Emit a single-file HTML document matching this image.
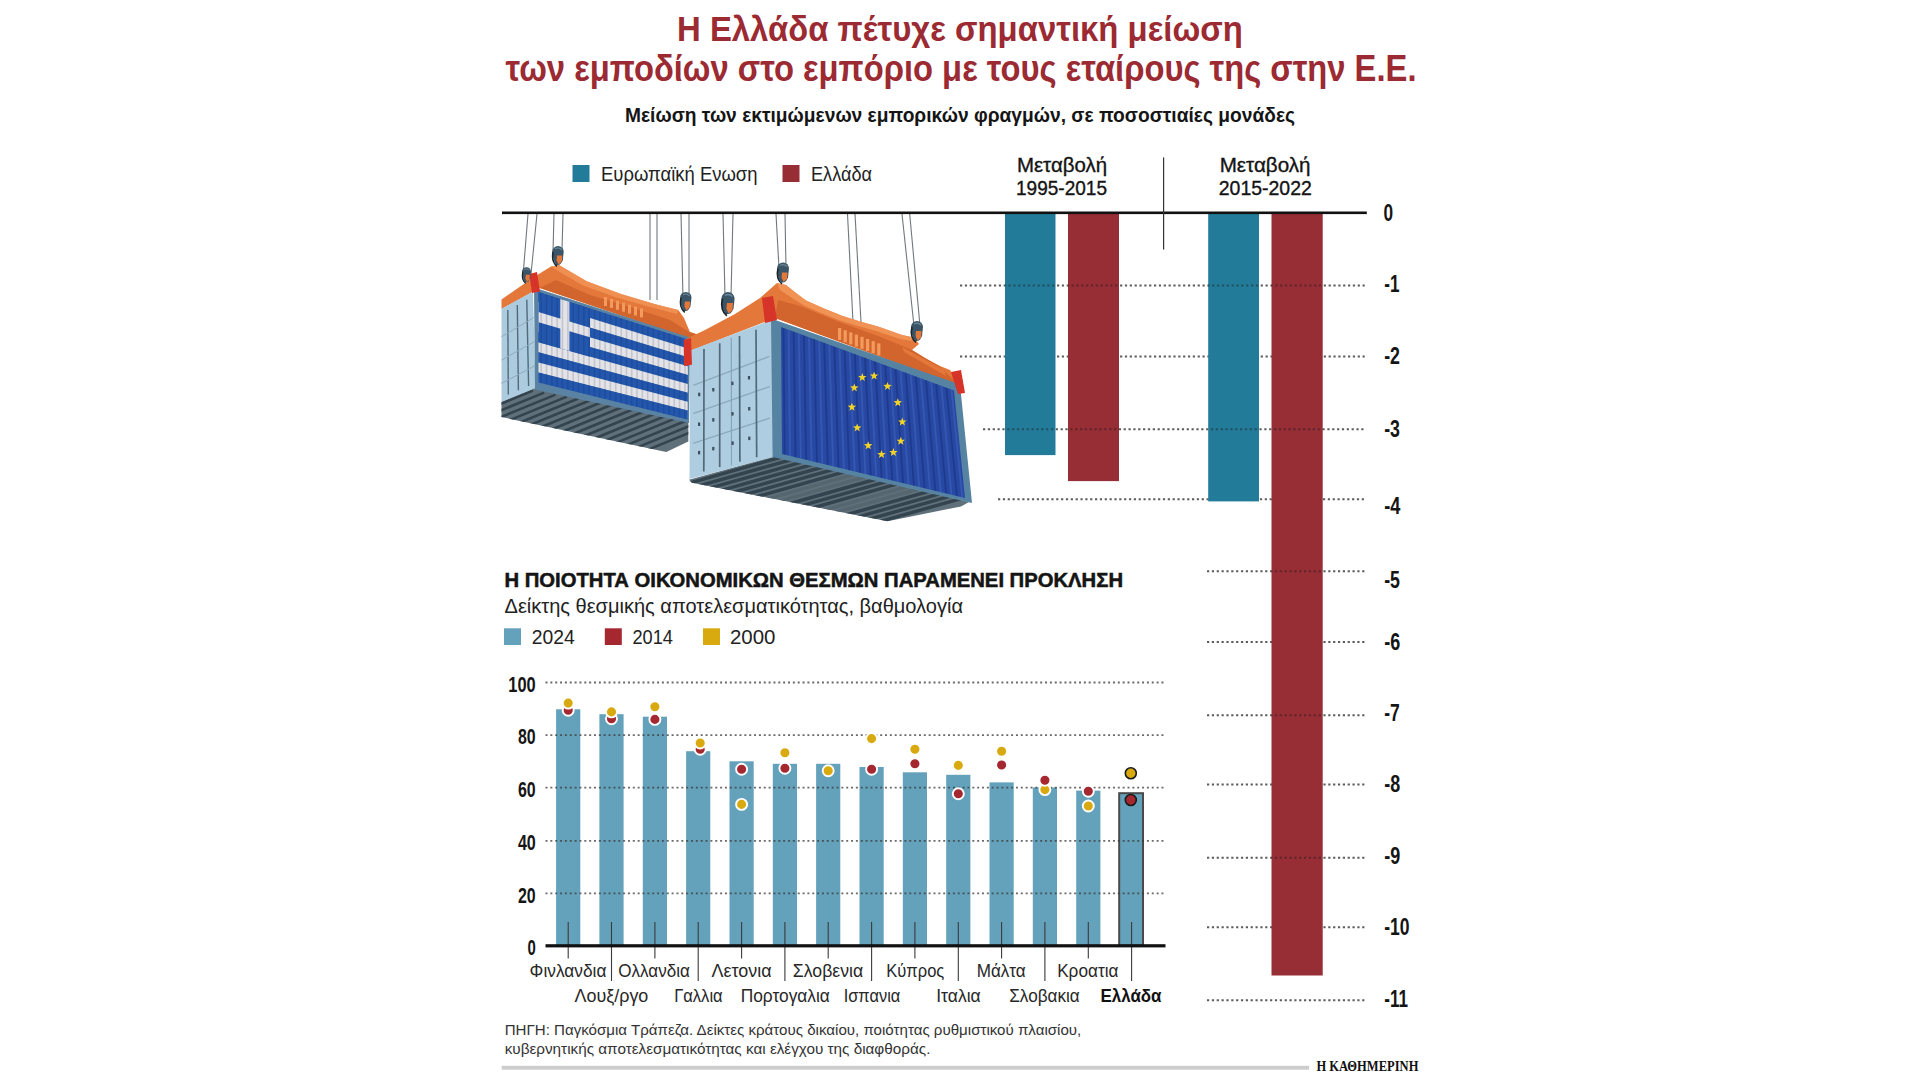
<!DOCTYPE html>
<html lang="el"><head><meta charset="utf-8"><title>Η Ελλάδα πέτυχε σημαντική μείωση των εμποδίων στο εμπόριο</title>
<style>
html,body{margin:0;padding:0;background:#fff;}
body{width:1920px;height:1080px;overflow:hidden;}
svg{display:block;font-family:"Liberation Sans", "DejaVu Sans", sans-serif;}
</style></head><body>
<svg width="1920" height="1080" viewBox="0 0 1920 1080">
<rect width="1920" height="1080" fill="#fff"/>
<g id="containers">
<line x1="528.0" y1="214.0" x2="523.0" y2="276.0" stroke="#70787e" stroke-width="1.1"/>
<line x1="537.0" y1="214.0" x2="531.0" y2="274.0" stroke="#70787e" stroke-width="1.1"/>
<line x1="554.0" y1="214.0" x2="553.0" y2="252.0" stroke="#70787e" stroke-width="1.1"/>
<line x1="563.0" y1="214.0" x2="562.0" y2="250.0" stroke="#70787e" stroke-width="1.1"/>
<line x1="650.0" y1="214.0" x2="650.0" y2="300.0" stroke="#70787e" stroke-width="1.1"/>
<line x1="657.0" y1="214.0" x2="657.0" y2="300.0" stroke="#70787e" stroke-width="1.1"/>
<line x1="681.0" y1="214.0" x2="683.0" y2="298.0" stroke="#70787e" stroke-width="1.1"/>
<line x1="689.0" y1="214.0" x2="689.0" y2="298.0" stroke="#70787e" stroke-width="1.1"/>
<line x1="723.0" y1="214.0" x2="725.0" y2="297.0" stroke="#70787e" stroke-width="1.1"/>
<line x1="733.0" y1="214.0" x2="731.0" y2="297.0" stroke="#70787e" stroke-width="1.1"/>
<line x1="776.0" y1="214.0" x2="779.0" y2="268.0" stroke="#70787e" stroke-width="1.1"/>
<line x1="785.0" y1="214.0" x2="786.0" y2="268.0" stroke="#70787e" stroke-width="1.1"/>
<line x1="847.5" y1="214.0" x2="853.0" y2="322.0" stroke="#70787e" stroke-width="1.1"/>
<line x1="855.0" y1="214.0" x2="861.0" y2="322.0" stroke="#70787e" stroke-width="1.1"/>
<line x1="902.0" y1="214.0" x2="914.0" y2="326.0" stroke="#70787e" stroke-width="1.1"/>
<line x1="909.7" y1="214.0" x2="920.0" y2="326.0" stroke="#70787e" stroke-width="1.1"/>
<polygon points="501.5,299.5 532.8,277.8 551.0,266.4 559.0,265.0 586.7,281.3 621.0,293.9 655.4,304.2 678.3,310.0 684.0,318.0 689.8,331.7 699.0,335.0 689.8,338.5 539.7,288.0 501.5,309.0" fill="#e4773a"/>
<polygon points="539.7,288.0 556.0,280.0 590.0,295.0 630.0,307.0 670.0,320.0 689.8,332.5 699.0,335.0 689.8,338.5" fill="#d1652d"/>
<polygon points="551.0,266.4 559.0,265.0 586.7,281.3 621.0,293.9 655.4,304.2 678.3,310.0 677.0,314.0 650.0,307.0 615.0,297.0 583.0,285.5 558.0,271.0" fill="#f39a5c" opacity="0.7"/>
<rect x="604.0" y="297.0" width="3.0" height="9.0" fill="#f39a5c"/>
<rect x="610.0" y="298.9" width="3.0" height="9.0" fill="#f39a5c"/>
<rect x="616.0" y="300.8" width="3.0" height="9.0" fill="#f39a5c"/>
<rect x="622.0" y="302.7" width="3.0" height="9.0" fill="#f39a5c"/>
<rect x="628.0" y="304.6" width="3.0" height="9.0" fill="#f39a5c"/>
<rect x="634.0" y="306.5" width="3.0" height="9.0" fill="#f39a5c"/>
<rect x="640.0" y="308.4" width="3.0" height="9.0" fill="#f39a5c"/>
<polygon points="501.5,308.8 533.0,291.5 535.5,388.0 501.5,402.0" fill="#adcbde"/>
<line x1="507.8" y1="310.0" x2="508.3" y2="394.5" stroke="#506a7c" stroke-width="1.4"/>
<line x1="517.3" y1="304.9" x2="518.4" y2="390.3" stroke="#506a7c" stroke-width="1.4"/>
<line x1="526.8" y1="299.8" x2="528.6" y2="386.0" stroke="#506a7c" stroke-width="1.4"/>
<line x1="501.5" y1="336.8" x2="533.7" y2="317.6" stroke="#8eabbf" stroke-width="1.0"/>
<line x1="501.5" y1="360.1" x2="534.3" y2="341.7" stroke="#8eabbf" stroke-width="1.0"/>
<line x1="501.5" y1="383.4" x2="534.9" y2="365.8" stroke="#8eabbf" stroke-width="1.0"/>
<polygon points="501.5,402.0 535.5,388.0 688.3,421.8 688.3,441.5 666.3,452.0 501.5,417.0" fill="#5f707b"/>
<clipPath id="cgu"><polygon points="501.5,402.0 535.5,388.0 688.3,421.8 688.3,441.5 666.3,452.0 501.5,417.0"/></clipPath>
<g clip-path="url(#cgu)">
<line x1="464.9" y1="418.6" x2="532.9" y2="390.6" stroke="#34444f" stroke-width="2.6"/>
<line x1="476.2" y1="420.6" x2="544.2" y2="392.6" stroke="#34444f" stroke-width="2.6"/>
<line x1="487.6" y1="422.6" x2="555.6" y2="394.6" stroke="#34444f" stroke-width="2.6"/>
<line x1="498.9" y1="424.6" x2="566.9" y2="396.6" stroke="#34444f" stroke-width="2.6"/>
<line x1="510.3" y1="426.5" x2="578.3" y2="398.5" stroke="#34444f" stroke-width="2.6"/>
<line x1="521.6" y1="428.5" x2="589.6" y2="400.5" stroke="#34444f" stroke-width="2.6"/>
<line x1="532.9" y1="430.5" x2="600.9" y2="402.5" stroke="#34444f" stroke-width="2.6"/>
<line x1="544.3" y1="432.5" x2="612.3" y2="404.5" stroke="#34444f" stroke-width="2.6"/>
<line x1="555.6" y1="434.5" x2="623.6" y2="406.5" stroke="#34444f" stroke-width="2.6"/>
<line x1="567.0" y1="436.5" x2="635.0" y2="408.5" stroke="#34444f" stroke-width="2.6"/>
<line x1="578.3" y1="438.5" x2="646.3" y2="410.5" stroke="#34444f" stroke-width="2.6"/>
<line x1="589.7" y1="440.5" x2="657.7" y2="412.5" stroke="#34444f" stroke-width="2.6"/>
<line x1="601.0" y1="442.5" x2="669.0" y2="414.5" stroke="#34444f" stroke-width="2.6"/>
<line x1="612.3" y1="444.4" x2="680.3" y2="416.4" stroke="#34444f" stroke-width="2.6"/>
<line x1="623.7" y1="446.4" x2="691.7" y2="418.4" stroke="#34444f" stroke-width="2.6"/>
<line x1="635.0" y1="448.4" x2="703.0" y2="420.4" stroke="#34444f" stroke-width="2.6"/>
<line x1="646.4" y1="450.4" x2="714.4" y2="422.4" stroke="#34444f" stroke-width="2.6"/>
</g>
<polygon points="534.0,287.5 690.0,337.5 689.0,423.0 535.0,389.5" fill="#5a83a3"/>
<polygon points="538.5,292.0 688.0,339.5 687.9,348.4 538.5,302.1" fill="#2356ad"/>
<polygon points="538.5,302.1 687.9,348.4 687.9,357.3 538.5,312.1" fill="#e3e3e8"/>
<polygon points="538.5,312.1 687.9,357.3 687.8,366.2 538.5,322.2" fill="#2356ad"/>
<polygon points="538.5,322.2 687.8,366.2 687.8,375.1 538.5,332.2" fill="#e3e3e8"/>
<polygon points="538.5,332.2 687.8,375.1 687.7,383.9 538.5,342.3" fill="#2356ad"/>
<polygon points="538.5,342.3 687.7,383.9 687.7,392.8 538.5,352.3" fill="#e3e3e8"/>
<polygon points="538.5,352.3 687.7,392.8 687.6,401.7 538.5,362.4" fill="#2356ad"/>
<polygon points="538.5,362.4 687.6,401.7 687.6,410.6 538.5,372.4" fill="#e3e3e8"/>
<polygon points="538.5,372.4 687.6,410.6 687.5,419.5 538.5,382.5" fill="#2356ad"/>
<polygon points="538.5,292.0 590.1,308.4 590.0,356.7 538.5,342.3" fill="#2356ad"/>
<polygon points="538.5,312.1 590.0,327.7 590.0,337.3 538.5,322.2" fill="#e3e3e8"/>
<polygon points="560.3,298.9 569.4,301.8 569.4,350.9 560.3,348.4" fill="#e3e3e8"/>
<line x1="541.2" y1="292.8" x2="541.2" y2="383.2" stroke="#0a1a40" stroke-width="1.6" opacity="0.14"/>
<line x1="546.5" y1="294.5" x2="546.5" y2="384.5" stroke="#0a1a40" stroke-width="1.6" opacity="0.14"/>
<line x1="551.8" y1="296.2" x2="551.8" y2="385.8" stroke="#0a1a40" stroke-width="1.6" opacity="0.14"/>
<line x1="557.2" y1="297.9" x2="557.1" y2="387.1" stroke="#0a1a40" stroke-width="1.6" opacity="0.14"/>
<line x1="562.5" y1="299.6" x2="562.4" y2="388.4" stroke="#0a1a40" stroke-width="1.6" opacity="0.14"/>
<line x1="567.9" y1="301.3" x2="567.8" y2="389.8" stroke="#0a1a40" stroke-width="1.6" opacity="0.14"/>
<line x1="573.2" y1="303.0" x2="573.1" y2="391.1" stroke="#0a1a40" stroke-width="1.6" opacity="0.14"/>
<line x1="578.5" y1="304.7" x2="578.4" y2="392.4" stroke="#0a1a40" stroke-width="1.6" opacity="0.14"/>
<line x1="583.9" y1="306.4" x2="583.7" y2="393.7" stroke="#0a1a40" stroke-width="1.6" opacity="0.14"/>
<line x1="589.2" y1="308.1" x2="589.1" y2="395.1" stroke="#0a1a40" stroke-width="1.6" opacity="0.14"/>
<line x1="594.6" y1="309.8" x2="594.4" y2="396.4" stroke="#0a1a40" stroke-width="1.6" opacity="0.14"/>
<line x1="599.9" y1="311.5" x2="599.7" y2="397.7" stroke="#0a1a40" stroke-width="1.6" opacity="0.14"/>
<line x1="605.2" y1="313.2" x2="605.0" y2="399.0" stroke="#0a1a40" stroke-width="1.6" opacity="0.14"/>
<line x1="610.6" y1="314.9" x2="610.3" y2="400.3" stroke="#0a1a40" stroke-width="1.6" opacity="0.14"/>
<line x1="615.9" y1="316.6" x2="615.7" y2="401.7" stroke="#0a1a40" stroke-width="1.6" opacity="0.14"/>
<line x1="621.3" y1="318.3" x2="621.0" y2="403.0" stroke="#0a1a40" stroke-width="1.6" opacity="0.14"/>
<line x1="626.6" y1="320.0" x2="626.3" y2="404.3" stroke="#0a1a40" stroke-width="1.6" opacity="0.14"/>
<line x1="631.9" y1="321.7" x2="631.6" y2="405.6" stroke="#0a1a40" stroke-width="1.6" opacity="0.14"/>
<line x1="637.3" y1="323.4" x2="636.9" y2="406.9" stroke="#0a1a40" stroke-width="1.6" opacity="0.14"/>
<line x1="642.6" y1="325.1" x2="642.3" y2="408.3" stroke="#0a1a40" stroke-width="1.6" opacity="0.14"/>
<line x1="648.0" y1="326.8" x2="647.6" y2="409.6" stroke="#0a1a40" stroke-width="1.6" opacity="0.14"/>
<line x1="653.3" y1="328.5" x2="652.9" y2="410.9" stroke="#0a1a40" stroke-width="1.6" opacity="0.14"/>
<line x1="658.6" y1="330.2" x2="658.2" y2="412.2" stroke="#0a1a40" stroke-width="1.6" opacity="0.14"/>
<line x1="664.0" y1="331.9" x2="663.6" y2="413.6" stroke="#0a1a40" stroke-width="1.6" opacity="0.14"/>
<line x1="669.3" y1="333.6" x2="668.9" y2="414.9" stroke="#0a1a40" stroke-width="1.6" opacity="0.14"/>
<line x1="674.7" y1="335.3" x2="674.2" y2="416.2" stroke="#0a1a40" stroke-width="1.6" opacity="0.14"/>
<line x1="680.0" y1="337.0" x2="679.5" y2="417.5" stroke="#0a1a40" stroke-width="1.6" opacity="0.14"/>
<line x1="685.3" y1="338.7" x2="684.8" y2="418.8" stroke="#0a1a40" stroke-width="1.6" opacity="0.14"/>
<polygon points="529.4,274.0 537.0,272.0 540.0,291.6 532.0,293.0" fill="#d63329"/>
<polygon points="685.0,341.0 691.0,339.0 693.0,362.0 686.0,364.0" fill="#d63329"/>
<path d="M522.0,271.8 A4.5 4.5 0 0 1 531.0,271.8 L530.2,278.5 Q528.8,282.2 526.5,282.2 L525.0,282.2 Q522.0,277.8 522.0,271.8 Z" fill="#3b5566"/>
<polygon points="525.8,274.8 529.9,274.8 529.5,279.6 526.9,281.9 525.4,278.5" fill="#e4773a"/>
<path d="M522.8,271.8 Q520.9,279.2 525.8,283.4" fill="none" stroke="#1c262d" stroke-width="1.2"/>
<path d="M524.2,269.5 Q527.2,268.0 529.5,270.2" fill="none" stroke="#6d8a9c" stroke-width="0.9"/>
<path d="M552.3,251.7 A5.7 5.7 0 0 1 563.7,251.7 L562.8,260.2 Q560.9,264.9 558.0,264.9 L556.1,264.9 Q552.3,259.2 552.3,251.7 Z" fill="#3b5566"/>
<polygon points="557.0,255.4 562.3,255.4 561.8,261.6 558.5,264.5 556.6,260.2" fill="#e4773a"/>
<path d="M553.2,251.7 Q550.9,261.1 557.0,266.4" fill="none" stroke="#1c262d" stroke-width="1.5"/>
<path d="M555.1,248.8 Q559.0,246.9 561.8,249.8" fill="none" stroke="#6d8a9c" stroke-width="1.1"/>
<path d="M680.1,297.6 A5.7 5.7 0 0 1 691.5,297.6 L690.5,306.2 Q688.6,310.9 685.8,310.9 L683.9,310.9 Q680.1,305.2 680.1,297.6 Z" fill="#3b5566"/>
<polygon points="684.8,301.4 690.1,301.4 689.6,307.6 686.3,310.5 684.4,306.2" fill="#e4773a"/>
<path d="M681.0,297.6 Q678.7,307.1 684.8,312.4" fill="none" stroke="#1c262d" stroke-width="1.5"/>
<path d="M682.9,294.8 Q686.8,292.9 689.6,295.8" fill="none" stroke="#6d8a9c" stroke-width="1.1"/>
<polygon points="684.0,340.0 705.0,330.0 735.0,314.0 760.0,298.0 777.0,283.0 786.0,285.0 796.0,293.0 806.0,300.5 824.0,308.5 842.0,315.7 860.0,321.5 878.0,326.6 902.0,335.0 914.0,337.5 919.0,344.0 912.0,350.0 925.0,358.0 940.0,366.0 950.0,370.0 960.0,386.0 775.0,318.0 690.0,351.0" fill="#e4773a"/>
<polygon points="778.0,300.0 800.0,306.0 842.0,323.0 878.0,336.0 905.0,347.0 912.0,350.0 925.0,358.0 940.0,367.0 960.0,386.0 775.0,318.0" fill="#d1652d"/>
<polygon points="777.0,283.0 786.0,285.0 796.0,293.0 806.0,300.5 824.0,308.5 842.0,315.7 860.0,321.5 878.0,326.6 902.0,335.0 914.0,337.5 912.0,341.0 900.0,339.0 876.0,331.0 858.0,326.0 840.0,320.5 822.0,313.5 804.0,305.5 792.0,298.0 780.0,290.0" fill="#f39a5c" opacity="0.8"/>
<rect x="838.0" y="328.0" width="3.2" height="12.0" fill="#f39a5c"/>
<rect x="843.6" y="330.2" width="3.2" height="12.0" fill="#f39a5c"/>
<rect x="849.2" y="332.4" width="3.2" height="12.0" fill="#f39a5c"/>
<rect x="854.8" y="334.6" width="3.2" height="12.0" fill="#f39a5c"/>
<rect x="860.4" y="336.8" width="3.2" height="12.0" fill="#f39a5c"/>
<rect x="866.0" y="339.0" width="3.2" height="12.0" fill="#f39a5c"/>
<rect x="871.6" y="341.2" width="3.2" height="12.0" fill="#f39a5c"/>
<rect x="877.2" y="343.4" width="3.2" height="12.0" fill="#f39a5c"/>
<polygon points="902.0,347.0 944.0,370.0 946.0,376.0 904.0,352.0" fill="#e4773a"/>
<polygon points="689.0,479.7 774.8,456.0 969.0,502.0 961.0,506.4 887.5,521.2 691.9,482.7" fill="#5f707b"/>
<clipPath id="ceu"><polygon points="689.0,479.7 774.8,456.0 969.0,502.0 961.0,506.4 887.5,521.2 691.9,482.7"/></clipPath>
<g clip-path="url(#ceu)">
<line x1="688.3" y1="483.5" x2="785.3" y2="456.0" stroke="#34444f" stroke-width="3.4"/>
<line x1="699.0" y1="485.8" x2="796.0" y2="458.3" stroke="#34444f" stroke-width="3.4"/>
<line x1="709.8" y1="488.2" x2="806.8" y2="460.7" stroke="#34444f" stroke-width="3.4"/>
<line x1="720.5" y1="490.6" x2="817.5" y2="463.1" stroke="#34444f" stroke-width="3.4"/>
<line x1="731.3" y1="493.0" x2="828.3" y2="465.5" stroke="#34444f" stroke-width="3.4"/>
<line x1="742.0" y1="495.4" x2="839.0" y2="467.9" stroke="#34444f" stroke-width="3.4"/>
<line x1="752.8" y1="497.8" x2="849.8" y2="470.3" stroke="#34444f" stroke-width="3.4"/>
<line x1="763.5" y1="500.2" x2="860.5" y2="472.7" stroke="#56666f" stroke-width="3.4"/>
<line x1="774.3" y1="502.6" x2="871.3" y2="475.1" stroke="#56666f" stroke-width="3.4"/>
<line x1="785.0" y1="505.0" x2="882.0" y2="477.5" stroke="#34444f" stroke-width="3.4"/>
<line x1="795.8" y1="507.3" x2="892.8" y2="479.8" stroke="#34444f" stroke-width="3.4"/>
<line x1="806.5" y1="509.7" x2="903.5" y2="482.2" stroke="#34444f" stroke-width="3.4"/>
<line x1="817.3" y1="512.1" x2="914.3" y2="484.6" stroke="#56666f" stroke-width="3.4"/>
<line x1="828.0" y1="514.5" x2="925.0" y2="487.0" stroke="#56666f" stroke-width="3.4"/>
<line x1="838.8" y1="516.9" x2="935.8" y2="489.4" stroke="#34444f" stroke-width="3.4"/>
<line x1="849.5" y1="519.3" x2="946.5" y2="491.8" stroke="#34444f" stroke-width="3.4"/>
<line x1="860.3" y1="521.7" x2="957.3" y2="494.2" stroke="#34444f" stroke-width="3.4"/>
<line x1="871.0" y1="524.1" x2="968.0" y2="496.6" stroke="#34444f" stroke-width="3.4"/>
</g>
<polygon points="690.0,350.5 772.5,319.5 773.5,457.0 689.5,479.0" fill="#afcde0"/>
<line x1="693.2" y1="385.3" x2="769.4" y2="356.4" stroke="#8daabd" stroke-width="1.4"/>
<line x1="693.1" y1="413.7" x2="769.7" y2="386.6" stroke="#8daabd" stroke-width="1.4"/>
<line x1="693.0" y1="443.3" x2="769.9" y2="418.1" stroke="#8daabd" stroke-width="1.4"/>
<line x1="731.3" y1="337.7" x2="731.5" y2="465.3" stroke="#88a4b8" stroke-width="1.2"/>
<line x1="704.0" y1="349.1" x2="703.8" y2="471.4" stroke="#52697a" stroke-width="1.7"/>
<line x1="719.7" y1="343.3" x2="719.7" y2="467.1" stroke="#52697a" stroke-width="1.7"/>
<line x1="739.5" y1="335.9" x2="739.9" y2="461.8" stroke="#52697a" stroke-width="1.7"/>
<line x1="756.0" y1="329.8" x2="756.7" y2="457.3" stroke="#52697a" stroke-width="1.7"/>
<rect x="698.1" y="392.7" width="2.2" height="3.5" fill="#3d5060"/>
<rect x="698.0" y="422.5" width="2.2" height="3.5" fill="#3d5060"/>
<rect x="698.0" y="450.9" width="2.2" height="3.5" fill="#3d5060"/>
<rect x="712.2" y="388.0" width="2.2" height="3.5" fill="#3d5060"/>
<rect x="712.2" y="418.1" width="2.2" height="3.5" fill="#3d5060"/>
<rect x="712.2" y="446.9" width="2.2" height="3.5" fill="#3d5060"/>
<rect x="731.3" y="381.6" width="2.2" height="3.5" fill="#3d5060"/>
<rect x="731.4" y="412.1" width="2.2" height="3.5" fill="#3d5060"/>
<rect x="731.5" y="441.4" width="2.2" height="3.5" fill="#3d5060"/>
<rect x="747.9" y="376.0" width="2.2" height="3.5" fill="#3d5060"/>
<rect x="748.1" y="407.0" width="2.2" height="3.5" fill="#3d5060"/>
<rect x="748.2" y="436.6" width="2.2" height="3.5" fill="#3d5060"/>
<polygon points="771.0,318.5 960.0,384.5 972.0,503.0 772.6,457.0" fill="#5683a2"/>
<polygon points="781.0,327.0 954.0,390.5 965.0,498.0 782.0,454.0" fill="#2749a4"/>
<line x1="783.5" y1="327.9" x2="784.7" y2="454.6" stroke="#0a1650" stroke-width="1.8" opacity="0.28"/>
<line x1="788.6" y1="329.8" x2="790.1" y2="455.9" stroke="#5d80d4" stroke-width="1.8" opacity="0.28"/>
<line x1="793.7" y1="331.7" x2="795.5" y2="457.2" stroke="#0a1650" stroke-width="1.8" opacity="0.28"/>
<line x1="798.8" y1="333.5" x2="800.8" y2="458.5" stroke="#5d80d4" stroke-width="1.8" opacity="0.28"/>
<line x1="803.9" y1="335.4" x2="806.2" y2="459.8" stroke="#0a1650" stroke-width="1.8" opacity="0.28"/>
<line x1="809.0" y1="337.3" x2="811.6" y2="461.1" stroke="#5d80d4" stroke-width="1.8" opacity="0.28"/>
<line x1="814.1" y1="339.1" x2="817.0" y2="462.4" stroke="#0a1650" stroke-width="1.8" opacity="0.28"/>
<line x1="819.2" y1="341.0" x2="822.4" y2="463.7" stroke="#5d80d4" stroke-width="1.8" opacity="0.28"/>
<line x1="824.2" y1="342.9" x2="827.8" y2="465.0" stroke="#0a1650" stroke-width="1.8" opacity="0.28"/>
<line x1="829.3" y1="344.7" x2="833.1" y2="466.3" stroke="#5d80d4" stroke-width="1.8" opacity="0.28"/>
<line x1="834.4" y1="346.6" x2="838.5" y2="467.6" stroke="#0a1650" stroke-width="1.8" opacity="0.28"/>
<line x1="839.5" y1="348.5" x2="843.9" y2="468.9" stroke="#5d80d4" stroke-width="1.8" opacity="0.28"/>
<line x1="844.6" y1="350.3" x2="849.3" y2="470.2" stroke="#0a1650" stroke-width="1.8" opacity="0.28"/>
<line x1="849.7" y1="352.2" x2="854.7" y2="471.5" stroke="#5d80d4" stroke-width="1.8" opacity="0.28"/>
<line x1="854.8" y1="354.1" x2="860.0" y2="472.8" stroke="#0a1650" stroke-width="1.8" opacity="0.28"/>
<line x1="859.9" y1="355.9" x2="865.4" y2="474.1" stroke="#5d80d4" stroke-width="1.8" opacity="0.28"/>
<line x1="865.0" y1="357.8" x2="870.8" y2="475.4" stroke="#0a1650" stroke-width="1.8" opacity="0.28"/>
<line x1="870.0" y1="359.7" x2="876.2" y2="476.6" stroke="#5d80d4" stroke-width="1.8" opacity="0.28"/>
<line x1="875.1" y1="361.6" x2="881.6" y2="477.9" stroke="#0a1650" stroke-width="1.8" opacity="0.28"/>
<line x1="880.2" y1="363.4" x2="887.0" y2="479.2" stroke="#5d80d4" stroke-width="1.8" opacity="0.28"/>
<line x1="885.3" y1="365.3" x2="892.3" y2="480.5" stroke="#0a1650" stroke-width="1.8" opacity="0.28"/>
<line x1="890.4" y1="367.2" x2="897.7" y2="481.8" stroke="#5d80d4" stroke-width="1.8" opacity="0.28"/>
<line x1="895.5" y1="369.0" x2="903.1" y2="483.1" stroke="#0a1650" stroke-width="1.8" opacity="0.28"/>
<line x1="900.6" y1="370.9" x2="908.5" y2="484.4" stroke="#5d80d4" stroke-width="1.8" opacity="0.28"/>
<line x1="905.7" y1="372.8" x2="913.9" y2="485.7" stroke="#0a1650" stroke-width="1.8" opacity="0.28"/>
<line x1="910.8" y1="374.6" x2="919.2" y2="487.0" stroke="#5d80d4" stroke-width="1.8" opacity="0.28"/>
<line x1="915.8" y1="376.5" x2="924.6" y2="488.3" stroke="#0a1650" stroke-width="1.8" opacity="0.28"/>
<line x1="920.9" y1="378.4" x2="930.0" y2="489.6" stroke="#5d80d4" stroke-width="1.8" opacity="0.28"/>
<line x1="926.0" y1="380.2" x2="935.4" y2="490.9" stroke="#0a1650" stroke-width="1.8" opacity="0.28"/>
<line x1="931.1" y1="382.1" x2="940.8" y2="492.2" stroke="#5d80d4" stroke-width="1.8" opacity="0.28"/>
<line x1="936.2" y1="384.0" x2="946.2" y2="493.5" stroke="#0a1650" stroke-width="1.8" opacity="0.28"/>
<line x1="941.3" y1="385.8" x2="951.5" y2="494.8" stroke="#5d80d4" stroke-width="1.8" opacity="0.28"/>
<line x1="946.4" y1="387.7" x2="956.9" y2="496.1" stroke="#0a1650" stroke-width="1.8" opacity="0.28"/>
<line x1="951.5" y1="389.6" x2="962.3" y2="497.4" stroke="#5d80d4" stroke-width="1.8" opacity="0.28"/>
<polygon points="862.3,373.1 863.4,376.0 866.5,376.1 864.1,378.1 864.9,381.1 862.3,379.3 859.7,381.1 860.5,378.1 858.1,376.1 861.2,376.0" fill="#f2d327"/>
<polygon points="874.1,371.6 875.2,374.5 878.3,374.6 875.9,376.6 876.7,379.6 874.1,377.8 871.5,379.6 872.3,376.6 869.9,374.6 873.0,374.5" fill="#f2d327"/>
<polygon points="887.5,381.9 888.6,384.8 891.7,384.9 889.3,386.9 890.1,389.9 887.5,388.1 884.9,389.9 885.7,386.9 883.3,384.9 886.4,384.8" fill="#f2d327"/>
<polygon points="897.8,398.2 898.9,401.1 902.0,401.2 899.6,403.2 900.4,406.2 897.8,404.4 895.2,406.2 896.0,403.2 893.6,401.2 896.7,401.1" fill="#f2d327"/>
<polygon points="902.3,417.5 903.4,420.4 906.5,420.5 904.1,422.5 904.9,425.5 902.3,423.7 899.7,425.5 900.5,422.5 898.1,420.5 901.2,420.4" fill="#f2d327"/>
<polygon points="900.8,436.8 901.9,439.7 905.0,439.8 902.6,441.8 903.4,444.8 900.8,443.0 898.2,444.8 899.0,441.8 896.6,439.8 899.7,439.7" fill="#f2d327"/>
<polygon points="893.4,448.0 894.5,450.9 897.6,451.0 895.2,453.0 896.0,456.0 893.4,454.2 890.8,456.0 891.6,453.0 889.2,451.0 892.3,450.9" fill="#f2d327"/>
<polygon points="881.5,450.1 882.6,453.0 885.7,453.1 883.3,455.1 884.1,458.1 881.5,456.3 878.9,458.1 879.7,455.1 877.3,453.1 880.4,453.0" fill="#f2d327"/>
<polygon points="868.2,441.2 869.3,444.1 872.4,444.2 870.0,446.2 870.8,449.2 868.2,447.4 865.6,449.2 866.4,446.2 864.0,444.2 867.1,444.1" fill="#f2d327"/>
<polygon points="857.2,423.4 858.3,426.3 861.4,426.4 859.0,428.4 859.8,431.4 857.2,429.6 854.6,431.4 855.4,428.4 853.0,426.4 856.1,426.3" fill="#f2d327"/>
<polygon points="851.9,402.7 853.0,405.6 856.1,405.7 853.7,407.7 854.5,410.7 851.9,408.9 849.3,410.7 850.1,407.7 847.7,405.7 850.8,405.6" fill="#f2d327"/>
<polygon points="854.3,383.4 855.4,386.3 858.5,386.4 856.1,388.4 856.9,391.4 854.3,389.6 851.7,391.4 852.5,388.4 850.1,386.4 853.2,386.3" fill="#f2d327"/>
<polygon points="762.0,298.0 773.0,296.0 777.0,320.0 765.0,323.0" fill="#d63329"/>
<polygon points="683.7,340.0 691.0,338.0 692.0,364.8 684.0,366.0" fill="#d63329"/>
<polygon points="951.0,372.0 961.0,370.0 965.0,393.0 958.0,394.0" fill="#d63329"/>
<path d="M721.4,298.7 A6.6 6.6 0 0 1 734.6,298.7 L733.5,308.6 Q731.3,314.1 728.0,314.1 L725.8,314.1 Q721.4,307.5 721.4,298.7 Z" fill="#3b5566"/>
<polygon points="726.9,303.1 733.0,303.1 732.4,310.2 728.5,313.6 726.4,308.6" fill="#e4773a"/>
<path d="M722.5,298.7 Q719.8,309.7 726.9,315.8" fill="none" stroke="#1c262d" stroke-width="1.8"/>
<path d="M724.7,295.4 Q729.1,293.2 732.4,296.5" fill="none" stroke="#6d8a9c" stroke-width="1.3"/>
<path d="M777.0,268.5 A6.0 6.0 0 0 1 789.0,268.5 L788.0,277.5 Q786.0,282.5 783.0,282.5 L781.0,282.5 Q777.0,276.5 777.0,268.5 Z" fill="#3b5566"/>
<polygon points="782.0,272.5 787.5,272.5 787.0,279.0 783.5,282.0 781.5,277.5" fill="#e4773a"/>
<path d="M778.0,268.5 Q775.5,278.5 782.0,284.0" fill="none" stroke="#1c262d" stroke-width="1.6"/>
<path d="M780.0,265.5 Q784.0,263.5 787.0,266.5" fill="none" stroke="#6d8a9c" stroke-width="1.2"/>
<path d="M911.0,327.0 A6.0 6.0 0 0 1 923.0,327.0 L922.0,336.0 Q920.0,341.0 917.0,341.0 L915.0,341.0 Q911.0,335.0 911.0,327.0 Z" fill="#3b5566"/>
<polygon points="916.0,331.0 921.5,331.0 921.0,337.5 917.5,340.5 915.5,336.0" fill="#e4773a"/>
<path d="M912.0,327.0 Q909.5,337.0 916.0,342.5" fill="none" stroke="#1c262d" stroke-width="1.6"/>
<path d="M914.0,324.0 Q918.0,322.0 921.0,325.0" fill="none" stroke="#6d8a9c" stroke-width="1.2"/>
</g>
<text x="677.0" y="40.8" font-size="35.3" font-weight="bold" fill="#9b2a33" textLength="565.8" lengthAdjust="spacingAndGlyphs">Η Ελλάδα πέτυχε σημαντική μείωση</text>
<text x="505.5" y="81.2" font-size="36" font-weight="bold" fill="#9b2a33" textLength="911.0" lengthAdjust="spacingAndGlyphs">των εμποδίων στο εμπόριο με τους εταίρους της στην Ε.Ε.</text>
<text x="625.0" y="122.4" font-size="21" font-weight="bold" fill="#151515" textLength="670.0" lengthAdjust="spacingAndGlyphs">Μείωση των εκτιμώμενων εμπορικών φραγμών, σε ποσοστιαίες μονάδες</text>
<rect x="572.5" y="165.0" width="17.0" height="17.0" fill="#237b9a"/>
<text x="601.0" y="180.5" font-size="20.5" fill="#222" textLength="156.5" lengthAdjust="spacingAndGlyphs">Ευρωπαϊκή Ενωση</text>
<rect x="782.5" y="165.0" width="17.0" height="17.0" fill="#972d35"/>
<text x="811.0" y="180.5" font-size="20.5" fill="#222" textLength="61.0" lengthAdjust="spacingAndGlyphs">Ελλάδα</text>
<line x1="960.0" y1="285.5" x2="1366.0" y2="285.5" stroke="#5c5c5c" stroke-width="2.0" stroke-dasharray="2.2 2.65"/>
<line x1="960.0" y1="356.6" x2="1366.0" y2="356.6" stroke="#5c5c5c" stroke-width="2.0" stroke-dasharray="2.2 2.65"/>
<line x1="983.0" y1="429.3" x2="1366.0" y2="429.3" stroke="#5c5c5c" stroke-width="2.0" stroke-dasharray="2.2 2.65"/>
<line x1="998.0" y1="499.2" x2="1366.0" y2="499.2" stroke="#5c5c5c" stroke-width="2.0" stroke-dasharray="2.2 2.65"/>
<line x1="1207.0" y1="571.3" x2="1366.0" y2="571.3" stroke="#5c5c5c" stroke-width="2.0" stroke-dasharray="2.2 2.65"/>
<line x1="1207.0" y1="641.9" x2="1366.0" y2="641.9" stroke="#5c5c5c" stroke-width="2.0" stroke-dasharray="2.2 2.65"/>
<line x1="1207.0" y1="715.2" x2="1366.0" y2="715.2" stroke="#5c5c5c" stroke-width="2.0" stroke-dasharray="2.2 2.65"/>
<line x1="1207.0" y1="784.6" x2="1366.0" y2="784.6" stroke="#5c5c5c" stroke-width="2.0" stroke-dasharray="2.2 2.65"/>
<line x1="1207.0" y1="857.8" x2="1366.0" y2="857.8" stroke="#5c5c5c" stroke-width="2.0" stroke-dasharray="2.2 2.65"/>
<line x1="1207.0" y1="927.2" x2="1366.0" y2="927.2" stroke="#5c5c5c" stroke-width="2.0" stroke-dasharray="2.2 2.65"/>
<line x1="1207.0" y1="1000.2" x2="1366.0" y2="1000.2" stroke="#5c5c5c" stroke-width="2.0" stroke-dasharray="2.2 2.65"/>
<rect x="1005.0" y="213.0" width="50.5" height="242.1" fill="#237b9a"/>
<rect x="1068.0" y="213.0" width="51.0" height="268.1" fill="#972d35"/>
<rect x="1208.2" y="213.0" width="50.8" height="288.4" fill="#237b9a"/>
<rect x="1271.5" y="213.0" width="51.2" height="762.5" fill="#972d35"/>
<line x1="1005.0" y1="285.5" x2="1055.5" y2="285.5" stroke="#1c1c1c" stroke-width="2.0" stroke-dasharray="2.2 2.65" stroke-opacity="0.45" stroke-dashoffset="1.35"/>
<line x1="1068.0" y1="285.5" x2="1119.0" y2="285.5" stroke="#1c1c1c" stroke-width="2.0" stroke-dasharray="2.2 2.65" stroke-opacity="0.45" stroke-dashoffset="1.30"/>
<line x1="1208.2" y1="285.5" x2="1259.0" y2="285.5" stroke="#1c1c1c" stroke-width="2.0" stroke-dasharray="2.2 2.65" stroke-opacity="0.45" stroke-dashoffset="0.85"/>
<line x1="1271.5" y1="285.5" x2="1322.7" y2="285.5" stroke="#1c1c1c" stroke-width="2.0" stroke-dasharray="2.2 2.65" stroke-opacity="0.45" stroke-dashoffset="1.10"/>
<line x1="1005.0" y1="429.3" x2="1055.5" y2="429.3" stroke="#1c1c1c" stroke-width="2.0" stroke-dasharray="2.2 2.65" stroke-opacity="0.45" stroke-dashoffset="2.60"/>
<line x1="1068.0" y1="429.3" x2="1119.0" y2="429.3" stroke="#1c1c1c" stroke-width="2.0" stroke-dasharray="2.2 2.65" stroke-opacity="0.45" stroke-dashoffset="2.55"/>
<line x1="1208.2" y1="429.3" x2="1259.0" y2="429.3" stroke="#1c1c1c" stroke-width="2.0" stroke-dasharray="2.2 2.65" stroke-opacity="0.45" stroke-dashoffset="2.10"/>
<line x1="1271.5" y1="429.3" x2="1322.7" y2="429.3" stroke="#1c1c1c" stroke-width="2.0" stroke-dasharray="2.2 2.65" stroke-opacity="0.45" stroke-dashoffset="2.35"/>
<line x1="1271.5" y1="571.3" x2="1322.7" y2="571.3" stroke="#1c1c1c" stroke-width="2.0" stroke-dasharray="2.2 2.65" stroke-opacity="0.45" stroke-dashoffset="1.45"/>
<line x1="1271.5" y1="715.2" x2="1322.7" y2="715.2" stroke="#1c1c1c" stroke-width="2.0" stroke-dasharray="2.2 2.65" stroke-opacity="0.45" stroke-dashoffset="1.45"/>
<line x1="1271.5" y1="857.8" x2="1322.7" y2="857.8" stroke="#1c1c1c" stroke-width="2.0" stroke-dasharray="2.2 2.65" stroke-opacity="0.45" stroke-dashoffset="1.45"/>
<rect x="502.0" y="211.5" width="864.8" height="2.6" fill="#111"/>
<rect x="1163.0" y="157.5" width="1.2" height="92.0" fill="#333"/>
<text x="1017.0" y="171.8" font-size="20" fill="#151515" textLength="90.0" lengthAdjust="spacingAndGlyphs" stroke="#111" stroke-width="0.35">Μεταβολή</text>
<text x="1016.0" y="194.8" font-size="20" fill="#151515" textLength="91.0" lengthAdjust="spacingAndGlyphs" stroke="#111" stroke-width="0.35">1995-2015</text>
<text x="1219.7" y="171.8" font-size="20" fill="#151515" textLength="90.8" lengthAdjust="spacingAndGlyphs" stroke="#111" stroke-width="0.35">Μεταβολή</text>
<text x="1218.8" y="194.8" font-size="20" fill="#151515" textLength="93.0" lengthAdjust="spacingAndGlyphs" stroke="#111" stroke-width="0.35">2015-2022</text>
<text x="1383.6" y="221.0" font-size="23.5" font-weight="bold" fill="#151515" textLength="9.6" lengthAdjust="spacingAndGlyphs">0</text>
<text x="1384.2" y="291.8" font-size="23.5" font-weight="bold" fill="#151515" textLength="15.2" lengthAdjust="spacingAndGlyphs">-1</text>
<text x="1384.2" y="363.6" font-size="23.5" font-weight="bold" fill="#151515" textLength="15.8" lengthAdjust="spacingAndGlyphs">-2</text>
<text x="1384.2" y="437.0" font-size="23.5" font-weight="bold" fill="#151515" textLength="15.8" lengthAdjust="spacingAndGlyphs">-3</text>
<text x="1384.2" y="514.2" font-size="23.5" font-weight="bold" fill="#151515" textLength="16.2" lengthAdjust="spacingAndGlyphs">-4</text>
<text x="1384.2" y="587.5" font-size="23.5" font-weight="bold" fill="#151515" textLength="15.8" lengthAdjust="spacingAndGlyphs">-5</text>
<text x="1384.2" y="649.6" font-size="23.5" font-weight="bold" fill="#151515" textLength="16.0" lengthAdjust="spacingAndGlyphs">-6</text>
<text x="1384.2" y="721.2" font-size="23.5" font-weight="bold" fill="#151515" textLength="15.6" lengthAdjust="spacingAndGlyphs">-7</text>
<text x="1384.2" y="791.8" font-size="23.5" font-weight="bold" fill="#151515" textLength="16.0" lengthAdjust="spacingAndGlyphs">-8</text>
<text x="1384.2" y="864.1" font-size="23.5" font-weight="bold" fill="#151515" textLength="16.0" lengthAdjust="spacingAndGlyphs">-9</text>
<text x="1384.2" y="934.5" font-size="23.5" font-weight="bold" fill="#151515" textLength="25.3" lengthAdjust="spacingAndGlyphs">-10</text>
<text x="1384.2" y="1006.7" font-size="23.5" font-weight="bold" fill="#151515" textLength="23.8" lengthAdjust="spacingAndGlyphs">-11</text>
<text x="504.5" y="586.6" font-size="19.5" font-weight="bold" fill="#151515" textLength="618.5" lengthAdjust="spacingAndGlyphs" stroke="#111" stroke-width="0.5">Η ΠΟΙΟΤΗΤΑ ΟΙΚΟΝΟΜΙΚΩΝ ΘΕΣΜΩΝ ΠΑΡΑΜΕΝΕΙ ΠΡΟΚΛΗΣΗ</text>
<text x="504.5" y="613.0" font-size="19.5" fill="#222" textLength="458.5" lengthAdjust="spacingAndGlyphs">Δείκτης θεσμικής αποτελεσματικότητας, βαθμολογία</text>
<rect x="504.0" y="628.3" width="17.0" height="16.7" fill="#64a2bc"/>
<text x="531.7" y="643.6" font-size="19.5" fill="#222" textLength="43.0" lengthAdjust="spacingAndGlyphs">2024</text>
<rect x="604.8" y="628.3" width="17.0" height="16.7" fill="#a5272f"/>
<text x="632.5" y="643.6" font-size="19.5" fill="#222" textLength="40.5" lengthAdjust="spacingAndGlyphs">2014</text>
<rect x="703.0" y="628.3" width="17.0" height="16.7" fill="#d8aa10"/>
<text x="730.0" y="643.6" font-size="19.5" fill="#222" textLength="45.5" lengthAdjust="spacingAndGlyphs">2000</text>
<rect x="556.1" y="709.3" width="24.2" height="236.3" fill="#64a2bc"/>
<rect x="599.4" y="714.2" width="24.2" height="231.4" fill="#64a2bc"/>
<rect x="642.8" y="716.7" width="24.2" height="228.9" fill="#64a2bc"/>
<rect x="686.1" y="751.2" width="24.2" height="194.4" fill="#64a2bc"/>
<rect x="729.5" y="761.3" width="24.2" height="184.3" fill="#64a2bc"/>
<rect x="772.8" y="763.8" width="24.2" height="181.8" fill="#64a2bc"/>
<rect x="816.1" y="763.8" width="24.2" height="181.8" fill="#64a2bc"/>
<rect x="859.5" y="767.0" width="24.2" height="178.6" fill="#64a2bc"/>
<rect x="902.8" y="772.3" width="24.2" height="173.3" fill="#64a2bc"/>
<rect x="946.2" y="774.8" width="24.2" height="170.8" fill="#64a2bc"/>
<rect x="989.5" y="782.4" width="24.2" height="163.2" fill="#64a2bc"/>
<rect x="1032.8" y="787.4" width="24.2" height="158.2" fill="#64a2bc"/>
<rect x="1076.2" y="790.6" width="24.2" height="155.0" fill="#64a2bc"/>
<rect x="1119.2" y="793.2" width="23.8" height="152.4" fill="#64a2bc" stroke="#4a4a4a" stroke-width="2"/>
<line x1="545.5" y1="893.3" x2="1166.0" y2="893.3" stroke="#3a3a3a" stroke-width="1.8" stroke-dasharray="2.0 2.85" stroke-opacity="0.75"/>
<line x1="545.5" y1="840.8" x2="1166.0" y2="840.8" stroke="#3a3a3a" stroke-width="1.8" stroke-dasharray="2.0 2.85" stroke-opacity="0.75"/>
<line x1="545.5" y1="787.7" x2="1166.0" y2="787.7" stroke="#3a3a3a" stroke-width="1.8" stroke-dasharray="2.0 2.85" stroke-opacity="0.75"/>
<line x1="545.5" y1="735.1" x2="1166.0" y2="735.1" stroke="#3a3a3a" stroke-width="1.8" stroke-dasharray="2.0 2.85" stroke-opacity="0.75"/>
<line x1="545.5" y1="682.5" x2="1166.0" y2="682.5" stroke="#3a3a3a" stroke-width="1.8" stroke-dasharray="2.0 2.85" stroke-opacity="0.75"/>
<line x1="568.2" y1="922.0" x2="568.2" y2="958.5" stroke="#3a3a3a" stroke-width="1.1"/>
<line x1="611.5" y1="922.0" x2="611.5" y2="981.0" stroke="#3a3a3a" stroke-width="1.1"/>
<line x1="654.9" y1="922.0" x2="654.9" y2="958.5" stroke="#3a3a3a" stroke-width="1.1"/>
<line x1="698.2" y1="922.0" x2="698.2" y2="981.0" stroke="#3a3a3a" stroke-width="1.1"/>
<line x1="741.6" y1="922.0" x2="741.6" y2="958.5" stroke="#3a3a3a" stroke-width="1.1"/>
<line x1="784.9" y1="922.0" x2="784.9" y2="981.0" stroke="#3a3a3a" stroke-width="1.1"/>
<line x1="828.2" y1="922.0" x2="828.2" y2="958.5" stroke="#3a3a3a" stroke-width="1.1"/>
<line x1="871.6" y1="922.0" x2="871.6" y2="981.0" stroke="#3a3a3a" stroke-width="1.1"/>
<line x1="914.9" y1="922.0" x2="914.9" y2="958.5" stroke="#3a3a3a" stroke-width="1.1"/>
<line x1="958.3" y1="922.0" x2="958.3" y2="981.0" stroke="#3a3a3a" stroke-width="1.1"/>
<line x1="1001.6" y1="922.0" x2="1001.6" y2="958.5" stroke="#3a3a3a" stroke-width="1.1"/>
<line x1="1044.9" y1="922.0" x2="1044.9" y2="981.0" stroke="#3a3a3a" stroke-width="1.1"/>
<line x1="1088.3" y1="922.0" x2="1088.3" y2="958.5" stroke="#3a3a3a" stroke-width="1.1"/>
<line x1="1131.6" y1="922.0" x2="1131.6" y2="981.0" stroke="#3a3a3a" stroke-width="1.1"/>
<rect x="545.5" y="944.2" width="620.0" height="3.2" fill="#111"/>
<circle cx="568.2" cy="710.3" r="5.5" fill="#a5272f" stroke="#ffffff" stroke-width="1.9"/>
<circle cx="568.2" cy="703.1" r="5.5" fill="#d8aa10" stroke="#ffffff" stroke-width="1.9"/>
<circle cx="611.5" cy="718.8" r="5.5" fill="#a5272f" stroke="#ffffff" stroke-width="1.9"/>
<circle cx="611.5" cy="711.9" r="5.5" fill="#d8aa10" stroke="#ffffff" stroke-width="1.9"/>
<circle cx="654.9" cy="706.8" r="5.5" fill="#d8aa10" stroke="#ffffff" stroke-width="1.9"/>
<circle cx="654.9" cy="719.4" r="5.5" fill="#a5272f" stroke="#ffffff" stroke-width="1.9"/>
<circle cx="700.2" cy="749.3" r="5.5" fill="#a5272f" stroke="#ffffff" stroke-width="1.9"/>
<circle cx="700.2" cy="743.0" r="5.5" fill="#d8aa10" stroke="#ffffff" stroke-width="1.9"/>
<circle cx="741.6" cy="804.4" r="5.5" fill="#d8aa10" stroke="#ffffff" stroke-width="1.9"/>
<circle cx="741.6" cy="769.2" r="5.5" fill="#a5272f" stroke="#ffffff" stroke-width="1.9"/>
<circle cx="784.9" cy="752.8" r="5.5" fill="#d8aa10" stroke="#ffffff" stroke-width="1.9"/>
<circle cx="784.9" cy="768.2" r="5.5" fill="#a5272f" stroke="#ffffff" stroke-width="1.9"/>
<circle cx="828.2" cy="770.8" r="5.5" fill="#d8aa10" stroke="#ffffff" stroke-width="1.9"/>
<circle cx="871.6" cy="738.6" r="5.5" fill="#d8aa10" stroke="#ffffff" stroke-width="1.9"/>
<circle cx="871.6" cy="769.2" r="5.5" fill="#a5272f" stroke="#ffffff" stroke-width="1.9"/>
<circle cx="914.9" cy="749.3" r="5.5" fill="#d8aa10" stroke="#ffffff" stroke-width="1.9"/>
<circle cx="914.9" cy="763.8" r="5.5" fill="#a5272f" stroke="#ffffff" stroke-width="1.9"/>
<circle cx="958.3" cy="765.4" r="5.5" fill="#d8aa10" stroke="#ffffff" stroke-width="1.9"/>
<circle cx="958.3" cy="793.7" r="5.5" fill="#a5272f" stroke="#ffffff" stroke-width="1.9"/>
<circle cx="1001.6" cy="751.2" r="5.5" fill="#d8aa10" stroke="#ffffff" stroke-width="1.9"/>
<circle cx="1001.6" cy="765.0" r="5.5" fill="#a5272f" stroke="#ffffff" stroke-width="1.9"/>
<circle cx="1044.9" cy="789.6" r="5.5" fill="#d8aa10" stroke="#ffffff" stroke-width="1.9"/>
<circle cx="1044.9" cy="780.2" r="5.5" fill="#a5272f" stroke="#ffffff" stroke-width="1.9"/>
<circle cx="1088.3" cy="806.0" r="5.5" fill="#d8aa10" stroke="#ffffff" stroke-width="1.9"/>
<circle cx="1088.3" cy="791.2" r="5.5" fill="#a5272f" stroke="#ffffff" stroke-width="1.9"/>
<circle cx="1130.8" cy="773.2" r="5.5" fill="#d8aa10" stroke="#1a1a1a" stroke-width="1.6"/>
<circle cx="1130.8" cy="800.0" r="5.5" fill="#a5272f" stroke="#1a1a1a" stroke-width="1.6"/>
<text x="508.3" y="691.7" font-size="22" font-weight="bold" fill="#151515" textLength="27.4" lengthAdjust="spacingAndGlyphs">100</text>
<text x="518.0" y="744.3" font-size="22" font-weight="bold" fill="#151515" textLength="17.7" lengthAdjust="spacingAndGlyphs">80</text>
<text x="518.0" y="796.9" font-size="22" font-weight="bold" fill="#151515" textLength="17.7" lengthAdjust="spacingAndGlyphs">60</text>
<text x="517.9" y="850.2" font-size="22" font-weight="bold" fill="#151515" textLength="17.9" lengthAdjust="spacingAndGlyphs">40</text>
<text x="518.0" y="902.7" font-size="22" font-weight="bold" fill="#151515" textLength="17.7" lengthAdjust="spacingAndGlyphs">20</text>
<text x="527.5" y="954.5" font-size="22" font-weight="bold" fill="#151515" textLength="8.3" lengthAdjust="spacingAndGlyphs">0</text>
<text x="568.0" y="976.5" font-size="17.5" text-anchor="middle" fill="#282828" textLength="76.8" lengthAdjust="spacingAndGlyphs">Φινλανδια</text>
<text x="611.4" y="1002.0" font-size="17.5" text-anchor="middle" fill="#282828" textLength="73.9" lengthAdjust="spacingAndGlyphs">Λουξ/ργο</text>
<text x="654.1" y="976.5" font-size="17.5" text-anchor="middle" fill="#282828" textLength="71.5" lengthAdjust="spacingAndGlyphs">Ολλανδια</text>
<text x="698.4" y="1002.0" font-size="17.5" text-anchor="middle" fill="#282828" textLength="48.5" lengthAdjust="spacingAndGlyphs">Γαλλια</text>
<text x="741.6" y="976.5" font-size="17.5" text-anchor="middle" fill="#282828" textLength="60.1" lengthAdjust="spacingAndGlyphs">Λετονια</text>
<text x="785.3" y="1002.0" font-size="17.5" text-anchor="middle" fill="#282828" textLength="89.2" lengthAdjust="spacingAndGlyphs">Πορτογαλια</text>
<text x="828.0" y="976.5" font-size="17.5" text-anchor="middle" fill="#282828" textLength="70.3" lengthAdjust="spacingAndGlyphs">Σλοβενια</text>
<text x="872.0" y="1002.0" font-size="17.5" text-anchor="middle" fill="#282828" textLength="56.7" lengthAdjust="spacingAndGlyphs">Ισπανια</text>
<text x="915.3" y="976.5" font-size="17.5" text-anchor="middle" fill="#282828" textLength="58.0" lengthAdjust="spacingAndGlyphs">Κύπρος</text>
<text x="958.5" y="1002.0" font-size="17.5" text-anchor="middle" fill="#282828" textLength="44.5" lengthAdjust="spacingAndGlyphs">Ιταλια</text>
<text x="1001.2" y="976.5" font-size="17.5" text-anchor="middle" fill="#282828" textLength="49.1" lengthAdjust="spacingAndGlyphs">Μάλτα</text>
<text x="1044.5" y="1002.0" font-size="17.5" text-anchor="middle" fill="#282828" textLength="70.5" lengthAdjust="spacingAndGlyphs">Σλοβακια</text>
<text x="1087.8" y="976.5" font-size="17.5" text-anchor="middle" fill="#282828" textLength="61.3" lengthAdjust="spacingAndGlyphs">Κροατια</text>
<text x="1131.0" y="1002.0" font-size="17.5" font-weight="bold" text-anchor="middle" fill="#111" textLength="61.1" lengthAdjust="spacingAndGlyphs">Ελλάδα</text>
<text x="504.7" y="1034.7" font-size="14.5" fill="#333" textLength="576.6" lengthAdjust="spacingAndGlyphs">ΠΗΓΗ: Παγκόσμια Τράπεζα. Δείκτες κράτους δικαίου, ποιότητας ρυθμιστικού πλαισίου,</text>
<text x="504.7" y="1054.3" font-size="14.5" fill="#333" textLength="425.7" lengthAdjust="spacingAndGlyphs">κυβερνητικής αποτελεσματικότητας και ελέγχου της διαφθοράς.</text>
<rect x="501.7" y="1065.8" width="807.5" height="3.9" fill="#cdcdcd"/>
<text x="1316.4" y="1070.8" font-size="14" font-weight="bold" fill="#111" textLength="102.0" lengthAdjust="spacingAndGlyphs" font-family="Liberation Serif, serif">Η ΚΑΘΗΜΕΡΙΝΗ</text>
</svg>
</body></html>
